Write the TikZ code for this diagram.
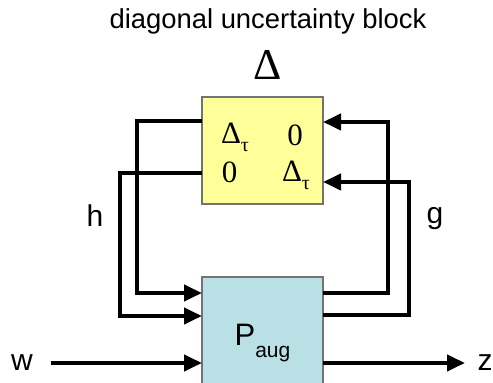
\documentclass[tikz,border=0pt]{standalone}
\usepackage{fontspec}
\setmainfont{Liberation Sans}
\newfontfamily\timesfont{Liberation Serif}
\usetikzlibrary{arrows.meta,positioning,calc}

\definecolor{deltafill}{RGB}{255,255,153}
\definecolor{plantfill}{RGB}{185,224,228}

\begin{document}
\begin{tikzpicture}[
    x=0.5pt, y=-0.5pt,
    blk/.style={draw=black!55, line width=0.75pt, inner sep=0pt, outer sep=0pt, minimum width=60.5pt},
    entry/.style={font=\timesfont\fontsize{15.5}{16}\selectfont, inner sep=0pt},
    lbl/.style={font=\fontsize{15}{18}\selectfont, inner sep=0pt},
    sig/.style={line width=2pt},
    arr/.style={sig, -{Triangle[length=9pt, width=8pt]}},
]
    \useasboundingbox (0,0) rectangle (493,383);
    \clip (0,0) rectangle (493,383);

    % Uncertainty block
    \node[blk, fill=deltafill, minimum height=53.5pt] (delta) at (262.5,150.5) {};
    \node[entry] (d11) at (235,137) {Δ\raisebox{-0.55ex}{\fontsize{10}{10}\selectfont τ}};
    \node[entry] (d12) at (295,135) {0};
    \node[entry] (d21) at (229.5,172) {0};
    \node[entry] (d22) at (296,175) {Δ\raisebox{-0.55ex}{\fontsize{10}{10}\selectfont τ}};
    \node[font=\timesfont\fontsize{22}{24}\selectfont, inner sep=0pt] (bigdelta) at (268,65) {Δ};
    \node[font=\fontsize{13.7}{16}\selectfont, inner sep=0pt] (title) at (268,21) {diagonal uncertainty block};

    % Augmented plant
    \node[blk, fill=plantfill, minimum height=66pt, font=\fontsize{15.5}{18}\selectfont] (paug) at (262.5,343)
        {P\raisebox{-0.75ex}{\fontsize{10.5}{12}\selectfont aug}};

    % Signal labels
    \node[lbl] (w) at (22,363) {w};
    \node[lbl] (z) at (485,363) {z};
    \node[lbl] (h) at (95,216) {h};
    \node[lbl] (g) at (435,219) {g};

    % Loop h: uncertainty outputs to plant inputs
    \draw[arr] ($(delta.west)+(0,-29.5)$) -| (137,293) -- ($(paug.west)+(0,-50)$);
    \draw[arr] ($(delta.west)+(0,22.5)$) -| (120,316) -- ($(paug.west)+(0,-27)$);

    % Loop g: plant outputs back to uncertainty inputs
    \draw[arr] ($(paug.east)+(0,-50)$) -| (388,122) -- ($(delta.east)+(0,-28.5)$);
    \draw[arr] ($(paug.east)+(0,-28)$) -| (409,182) -- ($(delta.east)+(0,31.5)$);

    % Exogenous input and output
    \draw[arr] (w.east) ++(18,0) -- ($(paug.west)+(0,20)$);
    \draw[arr] ($(paug.east)+(0,20)$) -- (465,363);
\end{tikzpicture}
\end{document}
